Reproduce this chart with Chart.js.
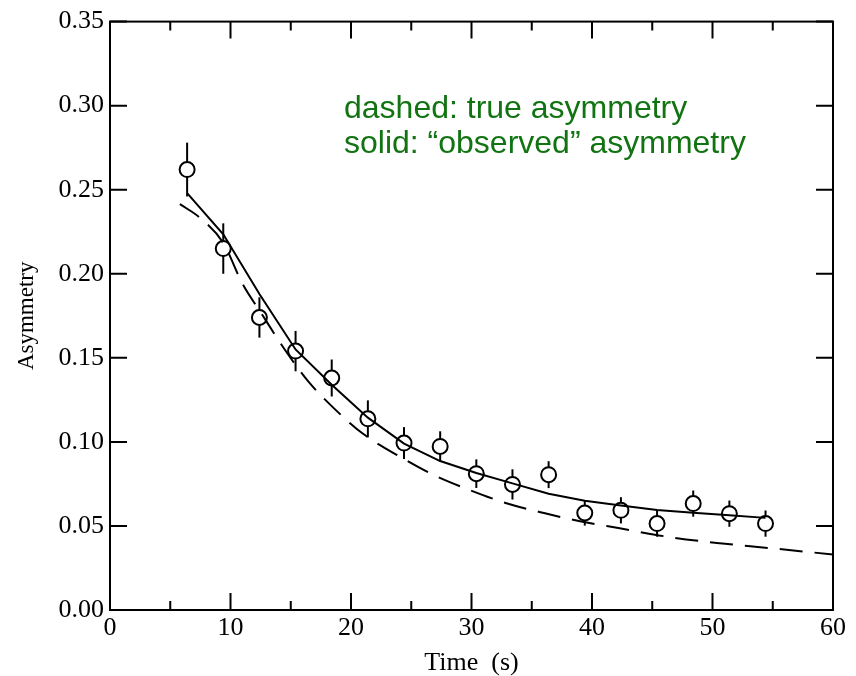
<!DOCTYPE html>
<html>
<head>
<meta charset="utf-8">
<script src="https://cdn.jsdelivr.net/npm/chart.js@4"></script>
<style>
    body { margin: 0; background: #fff; }
    canvas { display: block; }
</style>
</head>
<body>
<canvas id="asymChart" width="856" height="676"></canvas>
<script>
// measured points
const timeValues = [6.4, 9.4, 12.4, 15.4, 18.4, 21.4, 24.4, 27.4, 30.4, 33.4, 36.4, 39.4, 42.4, 45.4, 48.4, 51.4, 54.4];
const asymValues = [0.262, 0.215, 0.174, 0.154, 0.138, 0.1137, 0.0993, 0.0973, 0.0811, 0.0747, 0.0805, 0.0577, 0.0593, 0.0514, 0.0633, 0.0573, 0.0514];
const asymErrors = [0.016, 0.015, 0.012, 0.012, 0.011, 0.011, 0.0095, 0.009, 0.0085, 0.009, 0.008, 0.0075, 0.0078, 0.0078, 0.0078, 0.0078, 0.0078];

// solid: "observed" asymmetry (at the measured times)
const observedValues = [0.248, 0.2235, 0.188, 0.155, 0.134, 0.1144, 0.099, 0.0886, 0.0815, 0.0753, 0.0692, 0.0650, 0.0622, 0.0595, 0.0578, 0.0564, 0.0548];

// dashed: true asymmetry
const trueTimes = [5.8, 7.5, 9.4, 11.0, 12.6, 14.4, 16.4, 18.7, 21.0, 24.1, 26.8, 29.9, 32.9, 36.1, 39.0, 42.3, 46.5, 50.6, 54.8, 60];
const trueValues = [0.2414, 0.2331, 0.2183, 0.194, 0.176, 0.156, 0.1364, 0.1192, 0.1048, 0.091, 0.0805, 0.0712, 0.0635, 0.0575, 0.0528, 0.0486, 0.0433, 0.0397, 0.0368, 0.033];

const xTicks = [0, 10, 20, 30, 40, 50, 60];
const yTicks = [0, 0.05, 0.10, 0.15, 0.20, 0.25, 0.30, 0.35];
const noteLines = ['dashed: true asymmetry', 'solid: \u201cobserved\u201d asymmetry'];

const serif = '"Liberation Serif", "Times New Roman", serif';

const points = timeValues.map((t, i) => ({ x: t, y: asymValues[i] }));
const observed = timeValues.map((t, i) => ({ x: t, y: observedValues[i] }));
const trueCurve = trueTimes.map((t, i) => ({ x: t, y: trueValues[i] }));

// frame, inward ticks, error bars and the green note
const decorations = {
    id: 'decorations',
    beforeDatasetsDraw(chart) {
        const ctx = chart.ctx;
        const x = chart.scales.x, y = chart.scales.y;
        ctx.save();
        ctx.strokeStyle = '#000';
        ctx.lineWidth = 2;
        timeValues.forEach((t, i) => {
            const px = x.getPixelForValue(t);
            ctx.beginPath();
            ctx.moveTo(px, y.getPixelForValue(asymValues[i] - asymErrors[i]));
            ctx.lineTo(px, y.getPixelForValue(asymValues[i] + asymErrors[i]));
            ctx.stroke();
        });
        ctx.restore();
    },
    afterDraw(chart) {
        const ctx = chart.ctx;
        const area = chart.chartArea;
        const x = chart.scales.x, y = chart.scales.y;
        ctx.save();
        ctx.strokeStyle = '#000';
        ctx.lineWidth = 2;
        ctx.strokeRect(area.left, area.top, area.right - area.left, area.bottom - area.top);

        ctx.beginPath();
        xTicks.forEach(v => {
            const px = x.getPixelForValue(v);
            ctx.moveTo(px, area.bottom); ctx.lineTo(px, area.bottom - 17);
            ctx.moveTo(px, area.top); ctx.lineTo(px, area.top + 17);
        });
        for (let i = 0; i < xTicks.length - 1; i++) {
            const px = x.getPixelForValue((xTicks[i] + xTicks[i + 1]) / 2);
            ctx.moveTo(px, area.bottom); ctx.lineTo(px, area.bottom - 9);
            ctx.moveTo(px, area.top); ctx.lineTo(px, area.top + 9);
        }
        yTicks.forEach(v => {
            const py = y.getPixelForValue(v);
            ctx.moveTo(area.left, py); ctx.lineTo(area.left + 17, py);
            ctx.moveTo(area.right, py); ctx.lineTo(area.right - 17, py);
        });
        ctx.stroke();

        ctx.fillStyle = '#127312';
        ctx.font = '32px "Liberation Sans", Arial, sans-serif';
        ctx.textBaseline = 'alphabetic';
        ctx.textAlign = 'left';
        noteLines.forEach((line, i) => ctx.fillText(line, 344, 118 + i * 35));
        ctx.restore();
    }
};

new Chart(document.getElementById('asymChart'), {
    type: 'scatter',
    data: {
        datasets: [
            {
                label: 'true asymmetry',
                type: 'line',
                data: trueCurve,
                borderColor: '#000',
                borderWidth: 2,
                borderDash: [23, 12],
                pointRadius: 0,
                fill: false,
                cubicInterpolationMode: 'monotone',
                order: 1
            },
            {
                label: 'observed asymmetry',
                type: 'line',
                data: observed,
                borderColor: '#000',
                borderWidth: 2,
                pointRadius: 0,
                fill: false,
                tension: 0,
                order: 0
            },
            {
                label: 'data',
                data: points,
                pointRadius: 7.5,
                pointBorderWidth: 2,
                pointBorderColor: '#000',
                pointBackgroundColor: '#fff',
                showLine: false,
                order: 2
            }
        ]
    },
    options: {
        responsive: false,
        animation: false,
        layout: { padding: { top: 19, right: 23, left: 0, bottom: 0 } },
        plugins: {
            legend: { display: false },
            tooltip: { enabled: false }
        },
        scales: {
            x: {
                type: 'linear',
                min: 0,
                max: 60,
                grid: { display: false, drawTicks: false },
                border: { display: false },
                ticks: {
                    stepSize: 10,
                    color: '#000',
                    padding: 3,
                    font: { family: serif, size: 26 }
                },
                title: {
                    display: true,
                    text: 'Time  (s)',
                    color: '#000',
                    padding: 0,
                    font: { family: serif, size: 26, lineHeight: 1 }
                },
                afterFit: scale => { scale.height = 66; }
            },
            y: {
                min: 0,
                max: 0.35,
                grid: { display: false, drawTicks: false },
                border: { display: false },
                ticks: {
                    stepSize: 0.05,
                    color: '#000',
                    padding: 6,
                    font: { family: serif, size: 26 },
                    callback: v => v.toFixed(2)
                },
                title: {
                    display: true,
                    text: 'Asymmetry',
                    color: '#000',
                    padding: { top: 15, bottom: 0 },
                    font: { family: serif, size: 23, lineHeight: 1 }
                },
                afterFit: scale => { scale.width = 110; }
            }
        }
    },
    plugins: [decorations]
});
</script>
</body>
</html>
